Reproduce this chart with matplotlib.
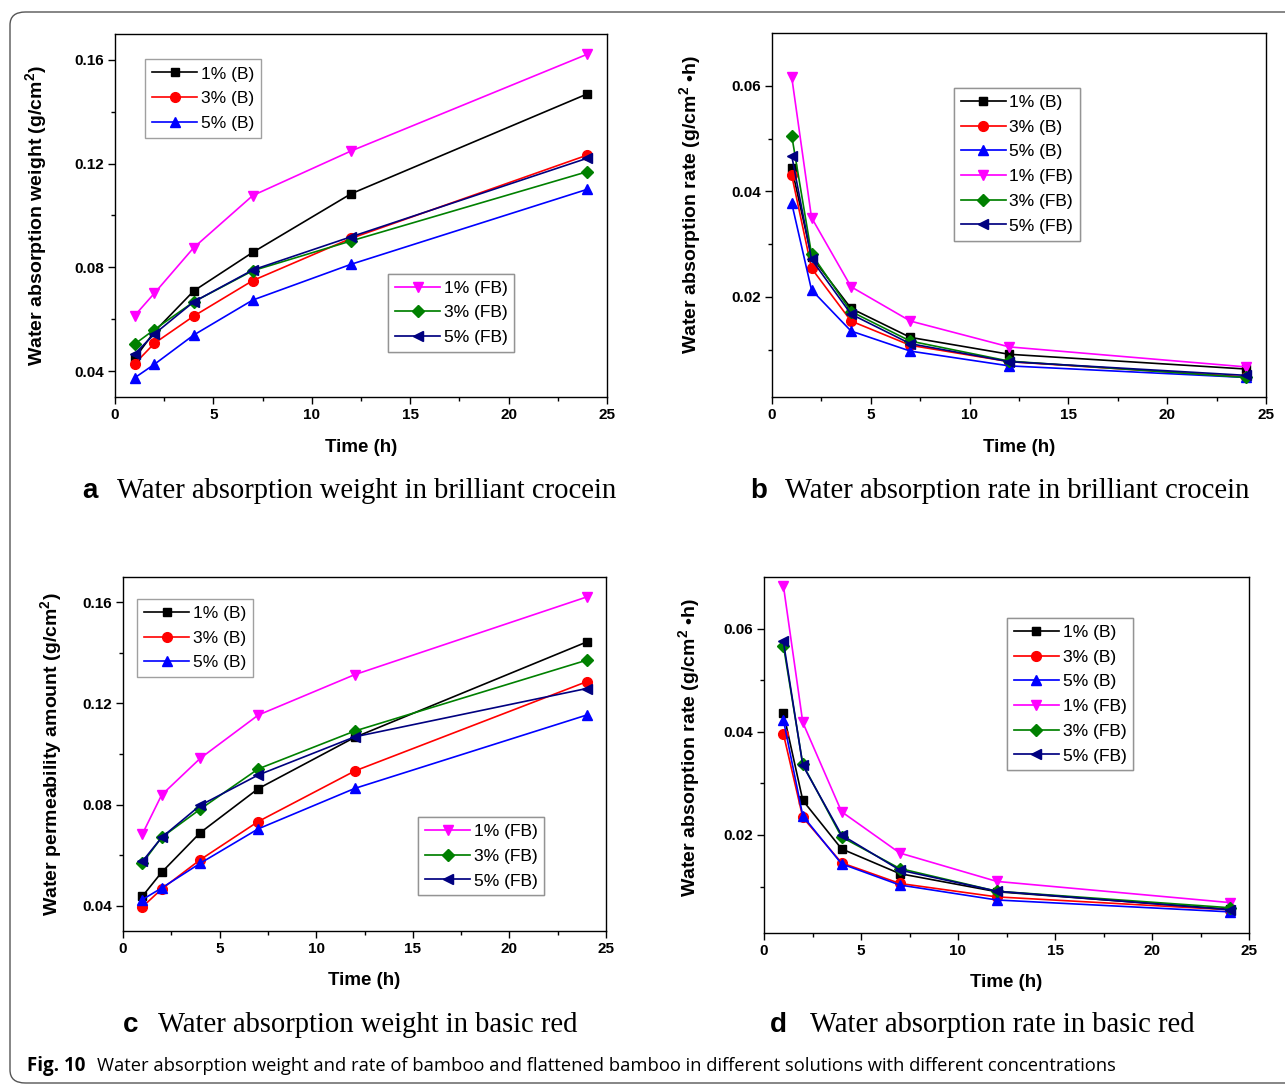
import matplotlib
matplotlib.use("Agg")
import matplotlib.pyplot as plt
from matplotlib.patches import FancyBboxPatch

plt.rcParams['font.family'] = ['Liberation Sans', 'DejaVu Sans']
plt.rcParams['mathtext.fontset'] = 'custom'
plt.rcParams['mathtext.bf'] = 'Liberation Sans:bold'
plt.rcParams['mathtext.rm'] = 'Liberation Sans'

# time points (h)
hours = [1, 2, 4, 7, 12, 24]

series_names = ['1% (B)', '3% (B)', '5% (B)', '1% (FB)', '3% (FB)', '5% (FB)']

# a: water absorption weight, brilliant crocein (g/cm2)
a_1b = [0.0449, 0.0552, 0.0709, 0.0858, 0.1084, 0.1469]
a_3b = [0.0428, 0.0507, 0.0612, 0.0749, 0.0912, 0.1233]
a_5b = [0.0374, 0.0426, 0.0539, 0.0674, 0.0812, 0.1101]
a_1fb = [0.0614, 0.0700, 0.0876, 0.1077, 0.1249, 0.1622]
a_3fb = [0.0504, 0.0560, 0.0667, 0.0787, 0.0902, 0.1169]
a_5fb = [0.0466, 0.0543, 0.0667, 0.0790, 0.0918, 0.1221]

# b: water absorption rate, brilliant crocein (g/cm2 h)
b_1b = [0.0444, 0.0276, 0.0178, 0.0123, 0.0091, 0.0063]
b_3b = [0.0430, 0.0254, 0.0154, 0.0108, 0.0077, 0.0048]
b_5b = [0.0377, 0.0213, 0.0135, 0.0097, 0.0069, 0.0047]
b_1fb = [0.0616, 0.0350, 0.0219, 0.0154, 0.0105, 0.0067]
b_3fb = [0.0505, 0.0281, 0.0172, 0.0116, 0.0078, 0.0047]
b_5fb = [0.0467, 0.0271, 0.0167, 0.0111, 0.0077, 0.0051]

# c: water permeability amount, basic red (g/cm2)
c_1b = [0.0437, 0.0532, 0.0689, 0.0863, 0.1066, 0.1443]
c_3b = [0.0395, 0.0466, 0.0582, 0.0733, 0.0933, 0.1286]
c_5b = [0.0424, 0.0470, 0.0568, 0.0704, 0.0864, 0.1154]
c_1fb = [0.0683, 0.0838, 0.0983, 0.1154, 0.1314, 0.1621]
c_3fb = [0.0568, 0.0670, 0.0782, 0.0941, 0.1091, 0.1371]
c_5fb = [0.0575, 0.0670, 0.0797, 0.0917, 0.1068, 0.1259]

# d: water absorption rate, basic red (g/cm2 h)
d_1b = [0.0437, 0.0267, 0.0173, 0.0125, 0.0090, 0.0056]
d_3b = [0.0396, 0.0234, 0.0146, 0.0106, 0.0080, 0.0055]
d_5b = [0.0423, 0.0237, 0.0144, 0.0103, 0.0074, 0.0051]
d_1fb = [0.0683, 0.0418, 0.0245, 0.0165, 0.0110, 0.0069]
d_3fb = [0.0567, 0.0337, 0.0196, 0.0135, 0.0091, 0.0059]
d_5fb = [0.0575, 0.0335, 0.0200, 0.0132, 0.0091, 0.0055]

colors = ['black', '#ff0000', '#0000ff', '#ff00ff', '#008000', '#000080']
markers = ['s', 'o', '^', 'v', 'D', '<']
msizes = [6, 7, 7, 7, 6, 7]

W, H = 1285, 1084
fig = plt.figure(figsize=(W / 100, H / 100), dpi=100)

# rounded outer frame
frame = FancyBboxPatch((10 / W, 1 - 1083 / H), 1.05, (1083 - 12) / H,
                       boxstyle='round,pad=0,rounding_size=0.012',
                       transform=fig.transFigure, fc='none', ec='#555555', lw=1.0)
fig.patches.append(frame)


def px_axes(l, t, r, b):
    return fig.add_axes([l / W, 1 - b / H, (r - l) / W, (b - t) / H])


def panel(ax, data, ylim, yticks, yminor, ylabel, label_x, label_y, legends):
    lines = []
    for i, ys in enumerate(data):
        ln, = ax.plot(hours, ys, color=colors[i], marker=markers[i], ms=msizes[i],
                      lw=1.2, label=series_names[i])
        lines.append(ln)
    ax.set_xlim(0, 25)
    ax.set_ylim(*ylim)
    ax.set_xticks([0, 5, 10, 15, 20, 25])
    ax.set_xticks([2.5, 7.5, 12.5, 17.5, 22.5], minor=True)
    ax.set_yticks(yticks)
    ax.set_yticklabels(['%.2f' % v for v in yticks])
    ax.set_yticks(yminor, minor=True)
    ax.tick_params(which='major', direction='out', length=5, width=1, labelsize=11, pad=3)
    ax.tick_params(which='minor', direction='out', length=3, width=1)
    for lab in ax.get_xticklabels() + ax.get_yticklabels():
        lab.set_fontweight('bold')
    for s in ax.spines.values():
        s.set_linewidth(1.0)
    ax.set_xlabel('Time (h)', fontsize=13.5, fontweight='bold')
    ax.xaxis.set_label_coords(0.5, -0.115)
    ax.set_ylabel(ylabel, fontsize=14, fontweight='bold')
    ax.yaxis.set_label_coords(label_x, label_y)
    for idx, anchor in legends:
        leg = ax.legend([lines[k] for k in idx], [series_names[k] for k in idx],
                        loc='upper left', bbox_to_anchor=anchor, fontsize=12.5,
                        frameon=True, fancybox=False, edgecolor='#888888',
                        handlelength=2.6, handletextpad=0.2, labelspacing=0.55,
                        borderpad=0.4, borderaxespad=0)
        leg.get_frame().set_linewidth(1.0)
        ax.add_artist(leg)


ax_a = px_axes(115, 34, 607, 397)
panel(ax_a, [a_1b, a_3b, a_5b, a_1fb, a_3fb, a_5fb], (0.03, 0.17),
      [0.04, 0.08, 0.12, 0.16], [0.06, 0.10, 0.14],
      r'Water absorption weight (g/cm$^{\mathbf{2}}$)', -0.132, 0.5,
      [([0, 1, 2], (0.061, 0.93)), ([3, 4, 5], (0.555, 0.34))])

ax_b = px_axes(772, 33, 1266, 397)
panel(ax_b, [b_1b, b_3b, b_5b, b_1fb, b_3fb, b_5fb], (0.001, 0.07),
      [0.02, 0.04, 0.06], [0.01, 0.03, 0.05],
      r'Water absorption rate (g/cm$^{\mathbf{2}}$ •h)', -0.138, 0.53,
      [([0, 1, 2, 3, 4, 5], (0.368, 0.849))])

ax_c = px_axes(123, 577, 606, 931)
panel(ax_c, [c_1b, c_3b, c_5b, c_1fb, c_3fb, c_5fb], (0.03, 0.17),
      [0.04, 0.08, 0.12, 0.16], [0.06, 0.10, 0.14],
      r'Water permeability amount (g/cm$^{\mathbf{2}}$)', -0.12, 0.5,
      [([0, 1, 2], (0.029, 0.938)), ([3, 4, 5], (0.611, 0.322))])

ax_d = px_axes(764, 577, 1249, 933)
panel(ax_d, [d_1b, d_3b, d_5b, d_1fb, d_3fb, d_5fb], (0.001, 0.07),
      [0.02, 0.04, 0.06], [0.01, 0.03, 0.05],
      r'Water absorption rate (g/cm$^{\mathbf{2}}$ •h)', -0.126, 0.52,
      [([0, 1, 2, 3, 4, 5], (0.501, 0.885))])

# sub captions
subs = [('a', 82, 117, 491, 'Water absorption weight in brilliant crocein'),
        ('b', 750, 785, 491, 'Water absorption rate in brilliant crocein'),
        ('c', 123, 158, 1025, 'Water absorption weight in basic red'),
        ('d', 770, 810, 1025, 'Water absorption rate in basic red')]
for letter, xl, xt, yc, txt in subs:
    fig.text(xl / W, 1 - yc / H, letter, fontsize=20, fontweight='bold',
             ha='left', va='center', family=['Liberation Sans', 'DejaVu Sans'])
    fig.text(xt / W, 1 - yc / H, txt, fontsize=20.6, ha='left', va='center',
             family=['Liberation Serif', 'DejaVu Serif'])

fig.text(27 / W, 1 - 1066 / H, 'Fig. 10', fontsize=13.5, fontweight='bold',
         ha='left', va='center', family=['Open Sans', 'DejaVu Sans'])
fig.text(97 / W, 1 - 1066 / H,
         'Water absorption weight and rate of bamboo and flattened bamboo in different solutions with different concentrations',
         fontsize=13.2, ha='left', va='center', family=['Open Sans', 'DejaVu Sans'])

fig.savefig('out.png', dpi=100)
